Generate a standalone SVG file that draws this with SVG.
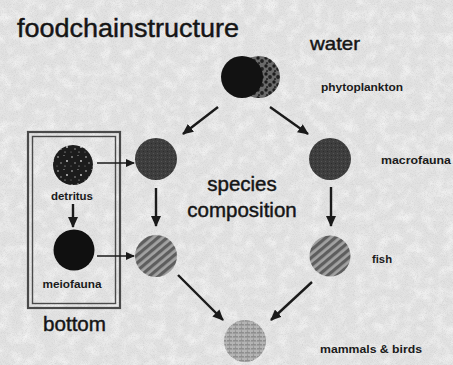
<svg xmlns="http://www.w3.org/2000/svg" width="453" height="365" viewBox="0 0 453 365">
<style>
.title{font-family:"Liberation Sans",Arial,sans-serif;fill:#151515;stroke:#151515;stroke-width:0.45}
.big{font-size:20.5px}
.lab{font-family:"Liberation Sans",Arial,sans-serif;font-weight:bold;font-size:10.5px;fill:#1a1a1a}
.arr{stroke:#1a1a1a;stroke-width:2.4;fill:none;marker-end:url(#ah)}
.arrt{stroke:#1a1a1a;stroke-width:1.6;fill:none;marker-end:url(#ahs)}
.box{fill:none;stroke:#4a4a4a}
</style>
<defs>
<filter id="noise" x="0" y="0" width="100%" height="100%">
<feTurbulence type="fractalNoise" baseFrequency="1.1" numOctaves="2" seed="7"/>
<feColorMatrix type="matrix" values="0 0 0 0 0.5  0 0 0 0 0.5  0 0 0 0 0.5  1.4 0 0 0 -0.62"/>
</filter>
<filter id="blot" x="0" y="0" width="100%" height="100%">
<feTurbulence type="fractalNoise" baseFrequency="0.09" numOctaves="3" seed="2"/>
<feColorMatrix type="matrix" values="0 0 0 0 1  0 0 0 0 1  0 0 0 0 1  1.2 0 0 0 -0.5"/>
</filter>
<marker id="ah" markerUnits="userSpaceOnUse" markerWidth="11" markerHeight="10" refX="10" refY="5" orient="auto">
<path d="M0,0 L11,5 L0,10 z" fill="#1a1a1a"/>
</marker>
<marker id="ahs" markerUnits="userSpaceOnUse" markerWidth="9" markerHeight="8" refX="8" refY="4" orient="auto">
<path d="M0,0 L9,4 L0,8 z" fill="#1a1a1a"/>
</marker>
<pattern id="stripes" patternUnits="userSpaceOnUse" width="6" height="6" patternTransform="rotate(-40)">
<rect width="6" height="6" fill="#a2a2a2"/>
<rect width="6" height="3.2" fill="#5e5e5e"/>
</pattern>
<pattern id="stipple" patternUnits="userSpaceOnUse" width="6" height="4">
<rect width="6" height="4" fill="#b4b4b4"/>
<rect width="6" height="1.6" fill="#8e8e8e"/>
<circle cx="1.5" cy="3" r="0.6" fill="#777"/>
<circle cx="4.5" cy="0.8" r="0.6" fill="#ccc"/>
</pattern>
<pattern id="speck" patternUnits="userSpaceOnUse" width="14" height="14">
<rect width="14" height="14" fill="#1c1c1c"/>
<circle cx="2" cy="3" r="0.8" fill="#cfcfcf"/>
<circle cx="8" cy="1.5" r="0.6" fill="#aaa"/>
<circle cx="11" cy="7" r="0.9" fill="#d6d6d6"/>
<circle cx="5" cy="9" r="0.7" fill="#bbb"/>
<circle cx="1" cy="12" r="0.5" fill="#999"/>
<circle cx="9" cy="12" r="0.6" fill="#ccc"/>
</pattern>
<pattern id="speckdark" patternUnits="userSpaceOnUse" width="8" height="8">
<rect width="8" height="8" fill="#6a6a6a"/>
<circle cx="2" cy="2" r="1.7" fill="#1c1c1c"/>
<circle cx="6" cy="5" r="1.9" fill="#222"/>
<circle cx="3" cy="7" r="1.1" fill="#2a2a2a"/>
</pattern>
<pattern id="fine" patternUnits="userSpaceOnUse" width="4" height="4">
<rect width="4" height="4" fill="#3e3e3e"/>
<rect x="1" y="1" width="1" height="1" fill="#555"/>
<rect x="3" y="3" width="1" height="1" fill="#2c2c2c"/>
</pattern>
</defs>

<g id="background">
<rect width="453" height="365" fill="#e2e2e2"/>
<rect width="453" height="365" filter="url(#blot)"/>
<rect width="453" height="365" filter="url(#noise)" opacity="0.6"/>
</g>

<g id="title">
<text class="title" x="17" y="37" font-size="26" textLength="222" lengthAdjust="spacingAndGlyphs">foodchainstructure</text>
<text class="title" x="310" y="50" font-size="19" textLength="50" lengthAdjust="spacingAndGlyphs">water</text>
<text class="title big" x="242" y="191" text-anchor="middle">species</text>
<text class="title big" x="242" y="217" text-anchor="middle">composition</text>
</g>

<g id="bottom-box">
<rect class="box" x="28" y="132" width="92" height="176" stroke-width="2.2"/>
<rect class="box" x="32.5" y="136.5" width="83" height="167" stroke-width="1.4"/>
<text class="title" x="43" y="331" font-size="21" textLength="63" lengthAdjust="spacingAndGlyphs">bottom</text>
</g>

<g id="connectors">
<line class="arr" x1="218" y1="107" x2="183" y2="134"/>
<line class="arr" x1="270" y1="107" x2="308" y2="134"/>
<line class="arr" x1="156" y1="188" x2="156" y2="226"/>
<line class="arr" x1="331" y1="187" x2="331" y2="226"/>
<line class="arrt" x1="97" y1="163" x2="134" y2="163"/>
<line class="arrt" x1="97" y1="256" x2="134" y2="256"/>
<line class="arr" x1="73" y1="204" x2="73" y2="227"/>
<line class="arr" x1="178" y1="275" x2="223" y2="320"/>
<line class="arr" x1="312" y1="282" x2="271" y2="320"/>
</g>

<g id="phytoplankton">
<circle cx="259" cy="77" r="21" fill="url(#speckdark)"/>
<circle cx="242" cy="77" r="21" fill="#121212"/>
<text class="lab" x="321" y="91" textLength="82" lengthAdjust="spacingAndGlyphs">phytoplankton</text>
</g>

<g id="macrofauna-left">
<circle cx="156" cy="159" r="21" fill="url(#fine)"/>
</g>

<g id="macrofauna">
<circle cx="330" cy="159" r="21" fill="url(#fine)"/>
<text class="lab" x="381" y="164" textLength="70" lengthAdjust="spacingAndGlyphs">macrofauna</text>
</g>

<g id="fish-left">
<circle cx="156" cy="256" r="21" fill="url(#stripes)"/>
</g>

<g id="fish">
<circle cx="330" cy="256" r="20.5" fill="url(#stripes)"/>
<text class="lab" x="372" y="263" textLength="20" lengthAdjust="spacingAndGlyphs">fish</text>
</g>

<g id="mammals-birds">
<circle cx="245" cy="341" r="21" fill="url(#stipple)"/>
<text class="lab" x="320" y="353" textLength="102" lengthAdjust="spacingAndGlyphs">mammals &amp; birds</text>
</g>

<g id="detritus">
<circle cx="73" cy="165" r="20" fill="url(#speck)"/>
<text class="lab" x="72" y="200" text-anchor="middle" textLength="42" lengthAdjust="spacingAndGlyphs">detritus</text>
</g>

<g id="meiofauna">
<circle cx="74" cy="250" r="20.5" fill="#101010"/>
<text class="lab" x="72" y="288" text-anchor="middle" textLength="59" lengthAdjust="spacingAndGlyphs">meiofauna</text>
</g>
</svg>
